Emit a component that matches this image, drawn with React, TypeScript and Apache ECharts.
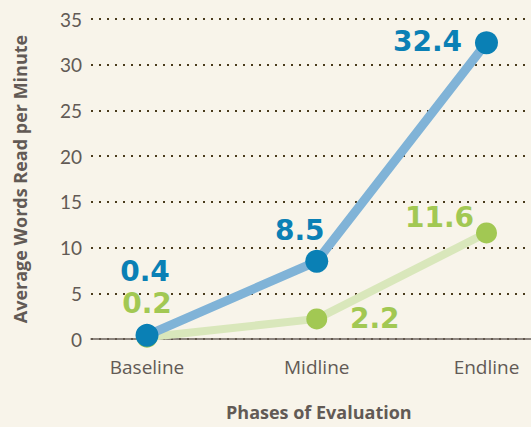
import React, { useEffect, useRef } from "react";
import * as echarts from "echarts";

const categories = ["Baseline", "Midline", "Endline"];
const blueValues = [0.4, 8.5, 32.4];
const greenValues = [0.2, 2.2, 11.6];
const yTicks = { min: 0, max: 35, interval: 5 };
const xTitle = "Phases of Evaluation";
const yTitle = "Average Words Read per Minute";

const blueLabelOffsets = [[-2, -64], [-17, -31], [-59, -1]];
const greenLabelOffsets = [[0, -34], [58, 0], [-47, -15]];

const BG = "#f8f4ea";
const BLUE_LINE = "#80b3d7";
const BLUE_DOT = "#0a80b5";
const GREEN_LINE = "#d9e7bb";
const GREEN_DOT = "#a2c853";
const TEXT = "#625a55";

function buildData(values: number[], offsets: number[][], color: string) {
  return values.map((v, i) => ({
    value: v,
    label: {
      show: true,
      position: "inside",
      offset: offsets[i],
      formatter: String(v),
      color,
      fontSize: 28,
      lineHeight: 28,
      fontWeight: "bold",
      fontFamily: "DejaVu Sans",
    },
  }));
}

export default function App() {
  const ref = useRef<HTMLDivElement>(null);
  useEffect(() => {
    if (!ref.current) return;
    const chart = echarts.init(ref.current, undefined, { renderer: "svg" });
    chart.setOption({
      animation: false,
      backgroundColor: BG,
      grid: [
        { left: 91, right: 0, top: 19, bottom: 88 },
        { left: 147, right: 44.5, top: 19, bottom: 88 },
      ],
      xAxis: [
        {
          type: "category",
          gridIndex: 0,
          data: categories,
          axisLine: { show: true, lineStyle: { color: "#6b625c", width: 1.5 } },
          axisTick: { show: false },
          axisLabel: { show: false },
          splitLine: { show: false },
        },
        {
          type: "category",
          gridIndex: 1,
          data: categories,
          boundaryGap: false,
          axisLine: { show: false },
          axisTick: { show: false },
          splitLine: { show: false },
          axisLabel: {
            color: TEXT,
            fontSize: 19,
            fontFamily: "Open Sans",
            margin: 18,
          },
        },
      ],
      yAxis: [
        {
          type: "value",
          gridIndex: 0,
          min: yTicks.min,
          max: yTicks.max,
          interval: yTicks.interval,
          axisLine: { show: false },
          axisTick: { show: false },
          axisLabel: {
            color: TEXT,
            fontSize: 19,
            fontFamily: "Lato",
            margin: 9,
          },
          splitLine: {
            show: true,
            lineStyle: { color: "#4a3b1c", width: 2, type: [2, 6] },
          },
          name: yTitle,
          nameLocation: "middle",
          nameRotate: 90,
          nameGap: 62,
          nameTextStyle: {
            color: TEXT,
            fontSize: 18,
            fontWeight: "bold",
            fontFamily: "Open Sans",
          },
        },
        {
          type: "value",
          gridIndex: 1,
          min: yTicks.min,
          max: yTicks.max,
          interval: yTicks.interval,
          show: false,
          splitLine: { show: false },
        },
      ],
      graphic: [
        {
          type: "text",
          left: 226,
          top: 403,
          style: {
            text: xTitle,
            fill: TEXT,
            fontSize: 18,
            fontWeight: "bold",
            fontFamily: "Open Sans",
          },
        },
      ],
      series: [
        {
          type: "line",
          xAxisIndex: 1,
          yAxisIndex: 1,
          data: buildData(greenValues, greenLabelOffsets, GREEN_DOT),
          symbol: "circle",
          symbolSize: 21,
          lineStyle: { color: GREEN_LINE, width: 8 },
          itemStyle: { color: GREEN_DOT },
          z: 2,
        },
        {
          type: "line",
          xAxisIndex: 1,
          yAxisIndex: 1,
          data: buildData(blueValues, blueLabelOffsets, BLUE_DOT),
          symbol: "circle",
          symbolSize: 23,
          lineStyle: { color: BLUE_LINE, width: 9 },
          itemStyle: { color: BLUE_DOT },
          z: 3,
        },
      ],
    });
    return () => chart.dispose();
  }, []);
  return (
    <div
      ref={ref}
      style={{ width: 531, height: 427, position: "absolute", left: 0, top: 0 }}
    />
  );
}
